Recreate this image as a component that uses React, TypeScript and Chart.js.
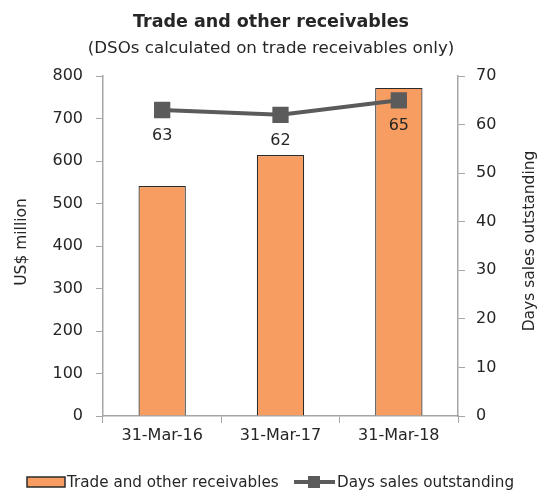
import React, { useEffect, useRef } from "react";
import { Chart, registerables } from "chart.js";

Chart.register(...registerables);

const categories = ["31-Mar-16", "31-Mar-17", "31-Mar-18"];
const receivables = [541, 614, 772];
const dso = [63, 62, 65];
const leftTicks = [0, 100, 200, 300, 400, 500, 600, 700, 800];
const rightTicks = [0, 10, 20, 30, 40, 50, 60, 70];

const TITLE = "Trade and other receivables";
const SUBTITLE = "(DSOs calculated on trade receivables only)";
const LEFT_TITLE = "US$ million";
const RIGHT_TITLE = "Days sales outstanding";
const BAR_LABEL = "Trade and other receivables";
const LINE_LABEL = "Days sales outstanding";

const FONT = "'DejaVu Sans', sans-serif";
const TEXT = "#262626";
const BAR_FILL = "#F79D61";
const BAR_EDGE = "#2b2b2b";
const LINE = "#5b5b5b";
const AXIS = "#a6a6a6";

const W = 542;
const H = 490;

const decorations = {
  id: "decorations",
  afterDraw(chart: any) {
    const ctx = chart.ctx as CanvasRenderingContext2D;
    ctx.save();
    ctx.fillStyle = TEXT;
    ctx.textAlign = "center";
    ctx.textBaseline = "alphabetic";

    // titles
    ctx.font = `bold 17.5px ${FONT}`;
    ctx.fillText(TITLE, W / 2, 27);
    ctx.font = `16.7px ${FONT}`;
    ctx.fillText(SUBTITLE, W / 2, 53);

    // axis titles, both reading bottom to top
    ctx.textBaseline = "middle";
    ctx.font = `15.5px ${FONT}`;
    ctx.save();
    ctx.translate(22, 242);
    ctx.rotate(-Math.PI / 2);
    ctx.fillText(LEFT_TITLE, 0, 0);
    ctx.restore();
    ctx.save();
    ctx.translate(530, 241);
    ctx.rotate(-Math.PI / 2);
    ctx.fillText(RIGHT_TITLE, 0, 0);
    ctx.restore();

    // value labels under the DSO points
    const meta = chart.getDatasetMeta(1);
    ctx.font = `16px ${FONT}`;
    meta.data.forEach((pt: any, i: number) => {
      ctx.fillText(String(dso[i]), pt.x, pt.y + 26);
    });

    // legend
    const ly = 482;
    ctx.fillStyle = BAR_FILL;
    ctx.strokeStyle = BAR_EDGE;
    ctx.lineWidth = 1.5;
    ctx.fillRect(27, ly - 5, 38, 10);
    ctx.strokeRect(27, ly - 5, 38, 10);
    ctx.fillStyle = TEXT;
    ctx.textAlign = "left";
    ctx.textBaseline = "alphabetic";
    ctx.font = `15.2px ${FONT}`;
    ctx.fillText(BAR_LABEL, 67, 487);

    ctx.strokeStyle = LINE;
    ctx.lineWidth = 4;
    ctx.beginPath();
    ctx.moveTo(294, ly);
    ctx.lineTo(335, ly);
    ctx.stroke();
    ctx.fillStyle = LINE;
    ctx.fillRect(308, ly - 6, 12, 12);
    ctx.fillStyle = TEXT;
    ctx.fillText(LINE_LABEL, 337, 487);
    ctx.restore();
  },
};

export default function App() {
  const ref = useRef<HTMLCanvasElement>(null);

  useEffect(() => {
    if (!ref.current) return;
    const chart = new Chart(ref.current, {
      type: "bar",
      data: {
        labels: categories,
        datasets: [
          {
            type: "bar",
            label: BAR_LABEL,
            data: receivables,
            backgroundColor: BAR_FILL,
            borderColor: BAR_EDGE,
            borderWidth: 1.2,
            barPercentage: 0.4,
            categoryPercentage: 1,
            yAxisID: "y",
            order: 2,
          },
          {
            type: "line",
            label: LINE_LABEL,
            data: dso,
            borderColor: LINE,
            backgroundColor: LINE,
            borderWidth: 4,
            pointStyle: "rect",
            pointRadius: 11.5,
            pointHoverRadius: 11.5,
            pointBorderWidth: 0,
            yAxisID: "y1",
            order: 1,
          } as any,
        ],
      },
      options: {
        animation: false,
        responsive: false,
        maintainAspectRatio: false,
        layout: { padding: { top: 76, left: 0, right: 0, bottom: 0 } },
        plugins: {
          legend: { display: false },
          title: { display: false },
          tooltip: { enabled: false },
        },
        scales: {
          x: {
            grid: {
              display: true,
              drawOnChartArea: false,
              drawTicks: true,
              tickLength: 7,
              color: AXIS,
              offset: true,
            },
            border: { display: true, color: AXIS, width: 1.5 },
            ticks: {
              color: TEXT,
              font: { family: FONT, size: 16 },
              padding: 3,
              maxRotation: 0,
            },
            afterFit(scale: any) {
              scale.height = 74;
            },
          },
          y: {
            position: "left",
            min: 0,
            max: 800,
            afterBuildTicks(scale: any) {
              scale.ticks = leftTicks.map((v) => ({ value: v }));
            },
            grid: {
              display: true,
              drawOnChartArea: false,
              drawTicks: true,
              tickLength: 7,
              color: AXIS,
            },
            border: { display: true, color: AXIS, width: 1.5 },
            ticks: {
              color: TEXT,
              font: { family: FONT, size: 16 },
              padding: 13,
            },
            afterFit(scale: any) {
              scale.width = 103;
            },
          },
          y1: {
            position: "right",
            min: 0,
            max: 70,
            afterBuildTicks(scale: any) {
              scale.ticks = rightTicks.map((v) => ({ value: v }));
            },
            grid: {
              display: true,
              drawOnChartArea: false,
              drawTicks: true,
              tickLength: 7,
              color: AXIS,
            },
            border: { display: true, color: AXIS, width: 1.5 },
            ticks: {
              color: TEXT,
              font: { family: FONT, size: 16 },
              padding: 11,
            },
            afterFit(scale: any) {
              scale.width = 84;
            },
          },
        },
      },
      plugins: [decorations],
    });
    return () => chart.destroy();
  }, []);

  return (
    <div style={{ position: "absolute", left: 0, top: 0, width: W, height: H, overflow: "hidden" }}>
      <canvas ref={ref} width={W} height={H} style={{ display: "block" }} />
    </div>
  );
}
